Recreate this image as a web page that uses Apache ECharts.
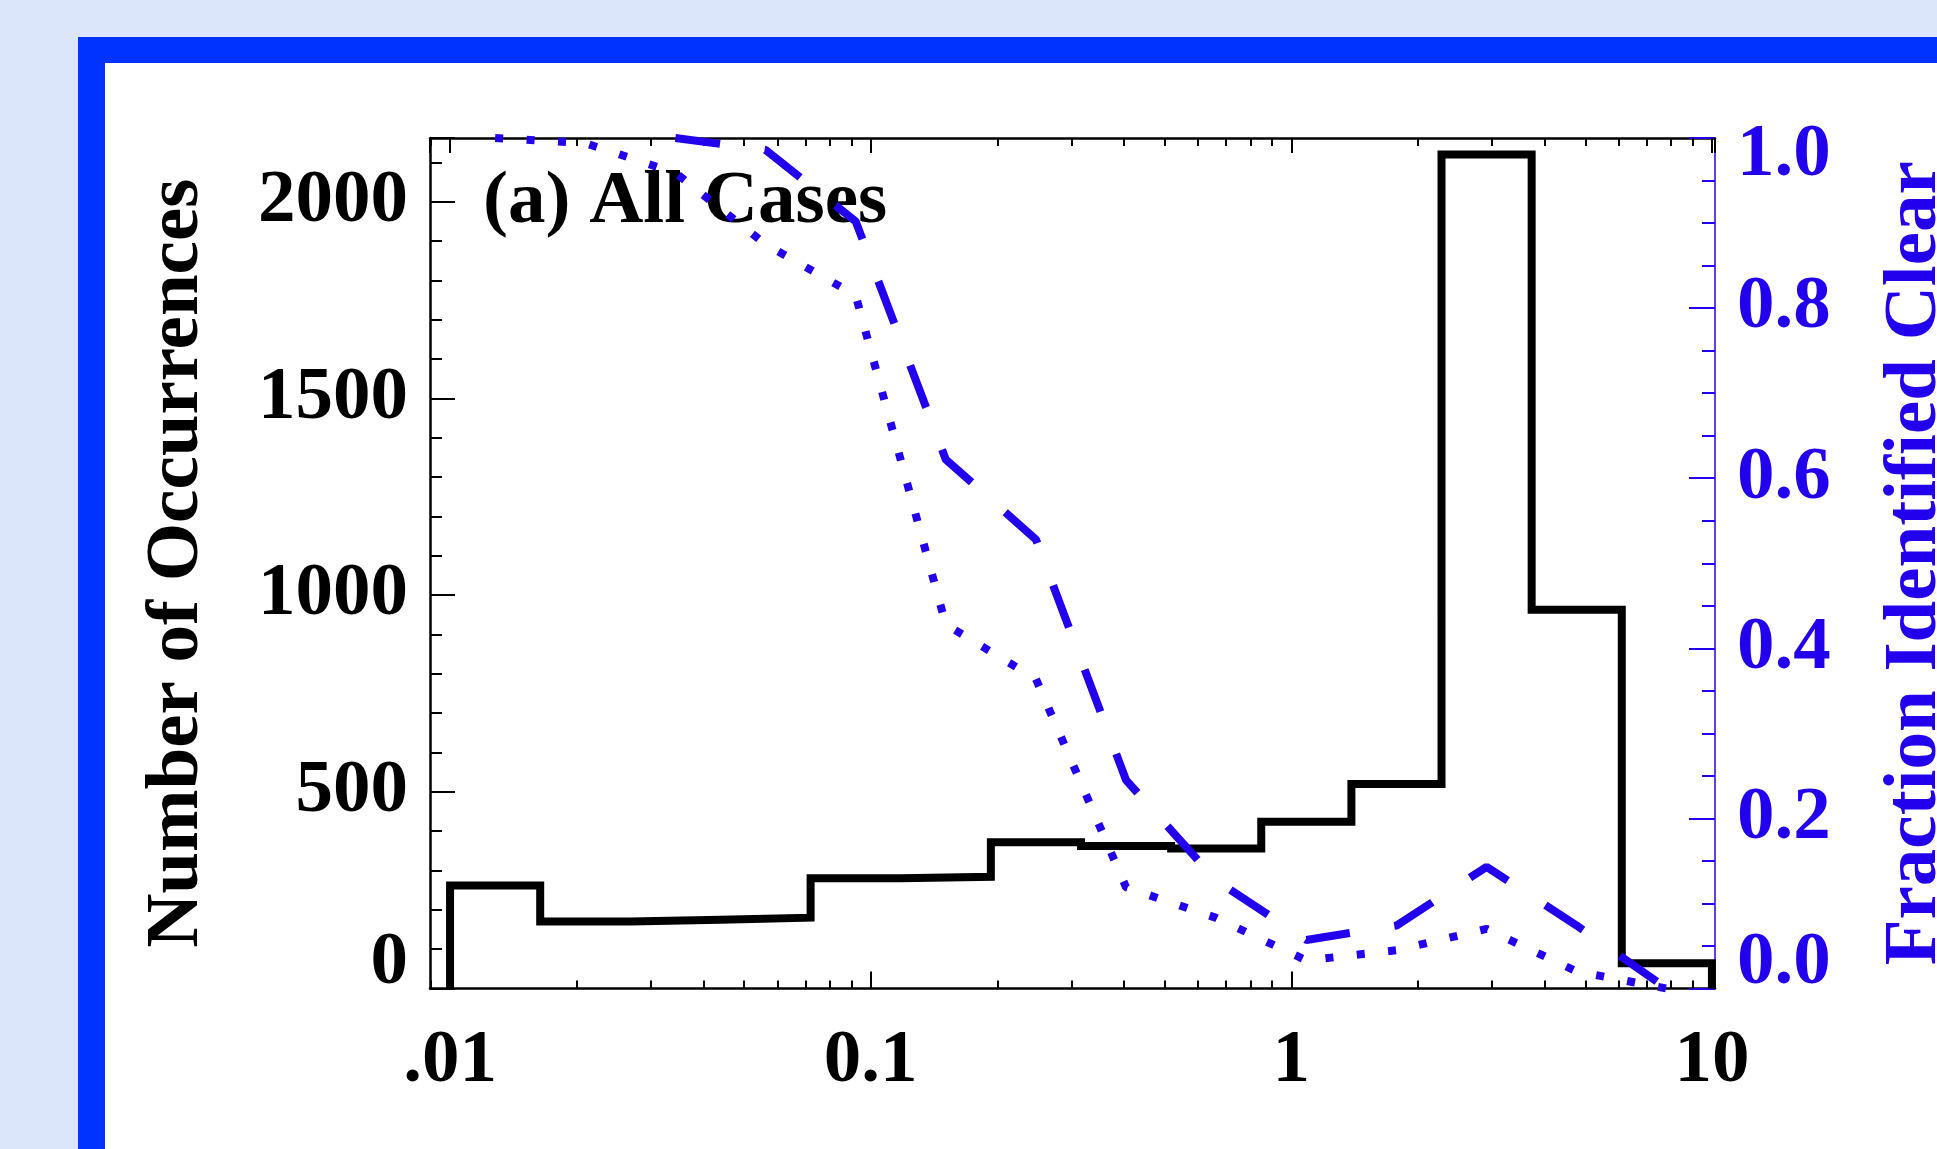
<!DOCTYPE html>
<html lang="en">
<head>
<meta charset="UTF-8" />
<title>(a) All Cases</title>
<script src="https://cdn.jsdelivr.net/npm/echarts@6/dist/echarts.min.js"></script>
<style>
  html, body { margin: 0; padding: 0; width: 1937px; height: 1149px; overflow: hidden; background: #dce6fb; }
  /* blue frame, only left and top edges are inside the picture */
  #frame { position: absolute; left: 78px; top: 37px; width: 1900px; height: 1200px; background: #fff;
           border-left: 27px solid #0033ff; border-top: 26px solid #0033ff; }
  #main { position: absolute; left: 0; top: 0; width: 1937px; height: 1149px; }
</style>
</head>
<body>
<div id="frame"></div>
<div id="main"></div>
<script>
// histogram bin edges (14 log-spaced bins, 0.01 .. 10)
var binEdges = [0.01, 0.016379, 0.026827, 0.04394, 0.071969, 0.11788, 0.19307, 0.31623,
                0.51795, 0.84834, 1.3895, 2.2758, 3.7276, 6.1054, 10];
// bin centres (geometric) where the fraction curves are plotted
var binCenters = [0.012798, 0.020962, 0.034334, 0.056234, 0.092106, 0.15086, 0.2471,
                  0.40472, 0.66289, 1.0857, 1.7783, 2.9126, 4.7705, 7.8137];
// number of occurrences in each bin
var counts = [262, 170, 175, 180, 280, 284, 372, 362, 356, 424, 520, 2120, 963, 64];
// fraction identified clear (two curves, right axis)
var fracDotted = [1.0, 0.994, 0.959, 0.875, 0.815, 0.428, 0.364, 0.119, 0.083, 0.033, 0.045, 0.070, 0.020, 0.0];
var fracDashed = [null, null, 1.0, 0.986, 0.902, 0.622, 0.528, 0.245, 0.127, 0.057, 0.074, 0.143, 0.074, 0.0];

// x tick labels
var xTickValues = [0.01, 0.1, 1, 10];
var xTickLabels = ['.01', '0.1', '1', '10'];
var minorMultiples = [2, 3, 4, 5, 6, 7, 8, 9];
var decades = [0.001, 0.01, 0.1, 1];

var xMin = 0.00896, xMax = 10.17;
var black = '#000000';
var blue = '#2200ee';
var font = 'Liberation Serif';

// step outline: start and finish on the zero line
var histData = [[binEdges[0], 0]];
counts.forEach(function (c, i) { histData.push([binEdges[i], c]); });
histData.push([binEdges[binEdges.length - 1], counts[counts.length - 1]]);
histData.push([binEdges[binEdges.length - 1], 0]);

function pairs(vals) {
  var out = [];
  vals.forEach(function (v, i) { if (v !== null) out.push([binCenters[i], v]); });
  return out;
}

// minor ticks of the log axis, given in log10 units for the helper axes
var minorLog = [];
decades.forEach(function (d) {
  minorMultiples.forEach(function (m) {
    var v = m * d;
    if (v > xMin && v < xMax) minorLog.push(Math.log10(v));
  });
});

var myChart = echarts.init(document.getElementById('main'), null, { renderer: 'canvas' });

var labelFont = { fontFamily: font, fontSize: 75, fontWeight: 'bold' };

function tickAxis(pos, len, vals) {
  return {
    type: 'value', position: pos, min: Math.log10(xMin), max: Math.log10(xMax),
    axisLine: { show: false, onZero: false },
    axisTick: { show: true, inside: true, length: len, customValues: vals, lineStyle: { color: black, width: 2 } },
    axisLabel: { show: false },
    splitLine: { show: false }
  };
}

var option = {
  animation: false,
  title: {
    text: '(a) All Cases',
    left: 478, top: 160, z: 1,
    textStyle: { fontFamily: font, fontSize: 75, fontWeight: 'bold', color: black, lineHeight: 76 }
  },
  grid: { left: 430, right: 222, top: 138, bottom: 160.5, containLabel: false, outerBoundsMode: 'none' },
  xAxis: [
    {
      type: 'log', logBase: 10, min: xMin, max: xMax, position: 'bottom',
      axisLine: { onZero: false, lineStyle: { color: black, width: 2.5 } },
      axisTick: { inside: true, length: 17, lineStyle: { color: black, width: 2 } },
      axisLabel: Object.assign({
        color: black, margin: 36, showMinLabel: false, showMaxLabel: false,
        formatter: function (v) {
          for (var i = 0; i < xTickValues.length; i++) {
            if (Math.abs(v / xTickValues[i] - 1) < 1e-6) return xTickLabels[i];
          }
          return '';
        }
      }, labelFont),
      splitLine: { show: false }
    },
    {
      type: 'log', logBase: 10, min: xMin, max: xMax, position: 'top',
      axisLine: { onZero: false, lineStyle: { color: black, width: 2.5 } },
      axisTick: { inside: true, length: 15, lineStyle: { color: black, width: 2 } },
      axisLabel: { show: false },
      splitLine: { show: false }
    },
    tickAxis('bottom', 8, minorLog),
    tickAxis('top', 8, minorLog)
  ],
  yAxis: [
    {
      type: 'value', position: 'left', min: 0, max: 2162, interval: 500,
      name: 'Number of Occurrences', nameLocation: 'middle', nameRotate: 90, nameGap: 215,
      nameTextStyle: Object.assign({ color: black }, labelFont),
      axisLine: { show: true, onZero: false, lineStyle: { color: black, width: 2.5 } },
      axisTick: { show: true, inside: true, length: 25, lineStyle: { color: black, width: 2 } },
      minorTick: { show: true, splitNumber: 5, length: 12, lineStyle: { color: black, width: 2 } },
      axisLabel: Object.assign({
        color: black, margin: 22, showMaxLabel: false,
        formatter: function (v) {
          if (v === 0) return '{lo|0}';
          if (v > 2000) return '';
          return String(v);
        },
        rich: { lo: Object.assign({ color: black, padding: [0, 0, 50, 0] }, labelFont) }
      }, labelFont),
      splitLine: { show: false }
    },
    {
      type: 'value', position: 'right', min: 0, max: 1, interval: 0.2,
      name: 'Fraction Identified Clear', nameLocation: 'middle', nameRotate: 90, nameGap: 163,
      nameTextStyle: Object.assign({ color: blue }, labelFont),
      axisLine: { show: true, onZero: false, lineStyle: { color: blue, width: 1.5 } },
      axisTick: { show: true, inside: true, length: 26, lineStyle: { color: blue, width: 2 } },
      minorTick: { show: true, splitNumber: 4, length: 13, lineStyle: { color: blue, width: 2 } },
      axisLabel: Object.assign({
        color: blue, margin: 22,
        formatter: function (v) {
          var s = v.toFixed(1);
          if (Math.abs(v) < 1e-9) return '{lo|' + s + '}';
          if (Math.abs(v - 1) < 1e-9) return '{hi|' + s + '}';
          return s;
        },
        rich: {
          lo: Object.assign({ color: blue, padding: [0, 0, 50, 0] }, labelFont),
          hi: Object.assign({ color: blue, padding: [36, 0, 0, 0] }, labelFont)
        }
      }, labelFont),
      splitLine: { show: false }
    }
  ],
  series: [
    {
      name: 'Number of Occurrences', type: 'line', xAxisIndex: 0, yAxisIndex: 0,
      step: 'end', symbol: 'none', data: histData,
      lineStyle: { color: black, width: 8, join: 'miter' }, z: 2
    },
    {
      name: 'Fraction (dotted)', type: 'line', xAxisIndex: 0, yAxisIndex: 1,
      symbol: 'none', data: pairs(fracDotted),
      lineStyle: { color: blue, width: 8, type: [8, 23.5], cap: 'butt' }, z: 3
    },
    {
      name: 'Fraction (dashed)', type: 'line', xAxisIndex: 0, yAxisIndex: 1,
      symbol: 'none', data: pairs(fracDashed),
      lineStyle: { color: blue, width: 8, type: [45, 45], cap: 'butt' }, z: 3
    }
  ]
};

myChart.setOption(option);
</script>
</body>
</html>
